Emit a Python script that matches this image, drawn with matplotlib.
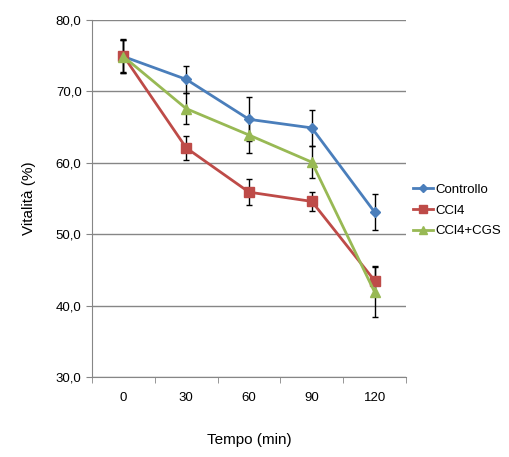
import numpy as np
import matplotlib.pyplot as plt

plt.rcParams['font.family'] = ['Liberation Sans', 'DejaVu Sans']

# Data
tempi = ["0", "30", "60", "90", "120"]
controllo = [74.9, 71.7, 66.1, 64.9, 53.1]
controllo_err = [2.3, 1.9, 3.1, 2.5, 2.5]
ccl4 = [75.0, 62.1, 55.9, 54.6, 43.5]
ccl4_err = [2.3, 1.7, 1.8, 1.3, 2.0]
ccl4_cgs = [74.9, 67.6, 63.9, 60.1, 41.9]
ccl4_cgs_err = [2.3, 2.2, 2.5, 2.2, 3.5]

x = np.arange(len(tempi))

fig = plt.figure(figsize=(5.1, 4.57), dpi=100)
ax = fig.add_axes([0.1804, 0.175, 0.6157, 0.781])

series = [
    ("Controllo", controllo, controllo_err, "#4A7EBB", "D", 5),
    ("CCl4", ccl4, ccl4_err, "#BE4B48", "s", 6.5),
    ("CCl4+CGS", ccl4_cgs, ccl4_cgs_err, "#98B954", "^", 7),
]
for name, vals, err, col, mk, ms in series:
    ax.errorbar(x, vals, yerr=err, fmt="none", ecolor="black",
                elinewidth=1, capsize=2.5, capthick=1, zorder=2)
    ax.plot(x, vals, color=col, marker=mk, markersize=ms, linewidth=2,
            label=name, zorder=3)

ax.set_xlim(-0.5, len(tempi) - 0.5)
ax.set_ylim(30, 80)
ax.set_yticks(np.arange(30, 81, 10))
ax.set_yticklabels([f"{v:.1f}".replace(".", ",") for v in np.arange(30, 81, 10)])
ax.set_xticks(x)
ax.set_xticklabels(tempi)
ax.set_xticks(np.arange(-0.5, len(tempi)), minor=True)
ax.tick_params(axis="x", which="major", length=0, pad=11, labelsize=9.5)
ax.tick_params(axis="x", which="minor", length=4, color="#868686")
ax.tick_params(axis="y", length=4, color="#868686", labelsize=9.5)

ax.grid(axis="y", color="#868686", linewidth=1)
ax.set_axisbelow(True)
for s in ["top", "right"]:
    ax.spines[s].set_visible(False)
for s in ["left", "bottom"]:
    ax.spines[s].set_color("#868686")

ax.set_ylabel("Vitalità (%)", fontsize=11, labelpad=14)
ax.set_xlabel("Tempo (min)", fontsize=11, labelpad=21)

fig.legend(*ax.get_legend_handles_labels(), loc="upper left",
           bbox_to_anchor=(0.80, 0.61), frameon=False,
           fontsize=9.5, handlelength=1.5, handletextpad=0.2,
           labelspacing=0.65, markerscale=0.8, borderaxespad=0)

fig.savefig("out.png", dpi=100)
